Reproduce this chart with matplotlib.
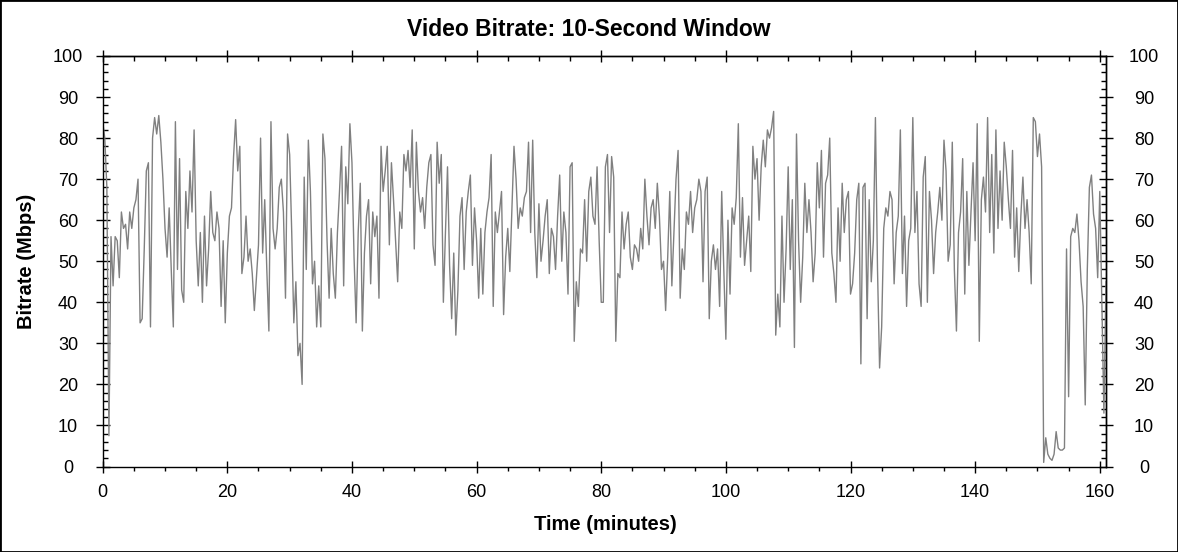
import numpy as np
import matplotlib
matplotlib.use('Agg')
import matplotlib.pyplot as plt
from matplotlib.ticker import MultipleLocator
from matplotlib.patches import Rectangle

plt.rcParams['font.family'] = ['Liberation Sans', 'DejaVu Sans']

# Sampling interval of the values (minutes)
STEP_MIN = 1 / 3

bitrate_mbps = [
    # 0 - 16 min
    84, 80, 68, 7.5, 56, 44, 56, 55, 46, 62, 58, 59, 53, 62, 58, 63, 65, 70, 35, 36,
    53, 72, 74, 34, 80, 85, 81, 85.5, 79, 70, 58, 51, 63, 48, 34, 84, 48, 75, 43, 40,
    67, 58, 72, 62, 82, 55, 44, 57, 40,
    # 16 - 32 min
    61, 44, 53, 67, 57, 55, 62, 58, 39, 55, 35, 52, 61, 63, 75.5, 84.5, 72, 78, 47, 51,
    61, 50, 53, 47, 38, 46, 54, 80, 52, 65, 48, 33, 84, 58, 53, 58, 68, 70, 62, 41,
    81, 76, 57, 35, 45, 27, 30, 20,
    # 32 - 48 min
    70.5, 48, 79.5, 67, 44.5, 50, 34, 44, 34, 81, 75, 55, 41, 58, 47, 41, 57, 67, 78, 44,
    73, 64, 83.5, 74, 51, 35, 57, 69, 33, 52, 61, 65, 44.5, 62, 56, 61, 41, 78, 67, 72,
    78, 54, 74, 65, 55, 45, 62, 58,
    # 48 - 64 min
    76, 72, 77, 68, 82, 53, 79, 67, 62, 65.5, 58, 68, 74, 76, 54, 49, 79, 69, 76, 40,
    57, 73, 49, 36, 52, 32, 43, 61, 65.5, 48, 62, 67, 71, 49, 63, 55, 41, 58, 42, 57,
    62, 65.5, 76, 39, 62, 57, 62, 67,
    # 64 - 80 min
    37, 51, 58, 47.5, 63, 78, 70, 58, 63, 61, 65.5, 67, 79, 57, 79.5, 57, 46, 64, 50, 55,
    61, 65, 47, 58, 56, 48, 61, 71, 50, 62, 57, 42, 73, 74, 30.5, 45, 39, 53, 52, 65,
    50, 67, 70.5, 61, 59, 73, 55, 40,
    # 80 - 96 min
    40, 73, 76, 57, 75.5, 70.5, 30.5, 47, 46, 62, 53, 59, 62, 51, 48, 54, 53, 50, 58, 53,
    70, 61, 54, 63, 65, 58, 69, 61, 48, 50, 38, 51, 67, 44, 57, 70, 77, 41, 53, 48,
    62, 59, 67, 57, 63, 65, 70, 67,
    # 96 - 112 min
    45, 67, 70.5, 36, 50, 54, 48, 53, 39, 67, 48, 31, 60, 42, 63, 59, 65.5, 83.5, 51, 65.5,
    49, 55, 61, 47.5, 78, 70, 75, 60, 73, 79.5, 73, 82, 80, 82.5, 86.5, 32, 42, 34, 61, 40,
    53, 73, 48, 65, 29, 81, 55, 40,
    # 112 - 128 min
    51, 69, 57, 65, 57, 45, 52, 74, 63, 77, 51, 69, 71, 80, 52, 47, 40, 63, 50, 69,
    57, 65, 67, 42, 44.5, 52, 65, 69, 25, 68, 69, 36, 65, 45, 55, 85, 48, 24, 34, 58,
    63, 61, 67, 65, 44.5, 57, 61, 82,
    # 128 - 144 min
    47, 61, 39, 55, 58, 85, 57, 67, 44.5, 39, 70.5, 75.5, 40, 67, 60, 47, 57, 62, 68, 60,
    79.5, 72, 50, 54, 79, 48, 33, 57, 62, 75, 42, 67, 49, 62, 74, 55, 83.5, 30.5, 65, 70.5,
    62, 85, 57, 76, 52, 82, 58, 72,
    # 144 - 161 min
    60, 79, 73, 65, 58, 77, 51, 63, 47.5, 61, 70.5, 58, 65, 57, 44.5, 85, 84, 75.5, 81, 73,
    1, 7, 3, 2, 1.5, 3, 8.5, 4.5, 4, 4, 4.5, 53, 17, 56, 58, 57, 61.5, 55, 45, 39,
    15, 48, 68, 71, 61.5, 58, 46, 67, 40, 13, 45,
]
minutes = np.arange(len(bitrate_mbps)) * STEP_MIN

title_text = "Video Bitrate: 10-Second Window"
x_label = "Time (minutes)"
y_label = "Bitrate (Mbps)"
x_ticks = [0, 20, 40, 60, 80, 100, 120, 140, 160]
y_ticks = [0, 10, 20, 30, 40, 50, 60, 70, 80, 90, 100]

W, H = 1178, 552
fig = plt.figure(figsize=(W / 100, H / 100), dpi=100)
fig.patch.set_facecolor('white')

left, right, top, bottom = 102.7, 1106, 56, 466.5
ax = fig.add_axes([left / W, 1 - bottom / H, (right - left) / W, (bottom - top) / H])
ax.plot(minutes, bitrate_mbps, color='#808080', lw=1.0)

ax.set_xlim(0, 161)
ax.set_ylim(0, 100)
ax.set_xticks(x_ticks)
ax.set_yticks(y_ticks)
ax.xaxis.set_minor_locator(MultipleLocator(5))
ax.yaxis.set_minor_locator(MultipleLocator(2))

for s in ax.spines.values():
    s.set_linewidth(1.0)
    s.set_color('black')

tick_fs = 13
ax.tick_params(axis='x', which='major', direction='inout', length=8.6, width=1,
               labelsize=tick_fs, pad=8.1, top=False)
ax.tick_params(axis='x', which='minor', direction='out', length=2.6, width=1, top=False)
ax.tick_params(axis='y', which='major', direction='inout', length=9.5, width=1,
               labelsize=tick_fs, pad=20.2, right=False)
ax.tick_params(axis='y', which='minor', direction='in', length=3.6, width=1, right=False)
for lbl in ax.get_yticklabels():
    lbl.set_horizontalalignment('center')

# top axis: ticks only
secx = ax.secondary_xaxis('top')
secx.set_xticks(x_ticks)
secx.xaxis.set_minor_locator(MultipleLocator(5))
secx.tick_params(axis='x', which='major', direction='inout', length=8.6, width=1,
                 labeltop=False)
secx.tick_params(axis='x', which='minor', direction='in', length=3.6, width=1)

# right axis: ticks and labels
secy = ax.secondary_yaxis('right')
secy.set_yticks(y_ticks)
secy.yaxis.set_minor_locator(MultipleLocator(2))
secy.tick_params(axis='y', which='major', direction='inout', length=9.5, width=1,
                 labelsize=tick_fs, pad=22.6)
secy.tick_params(axis='y', which='minor', direction='in', length=3.6, width=1)
for lbl in secy.get_yticklabels():
    lbl.set_horizontalalignment('center')
for sp in (secx, secy):
    for s in sp.spines.values():
        s.set_linewidth(1.0)

fig.text(0.5, 1 - 29.5 / H, title_text, ha='center', va='center',
         fontsize=16.5, fontweight='bold')
fig.text(605 / W, 1 - 524 / H, x_label, ha='center', va='center',
         fontsize=14.5, fontweight='bold')
fig.text(27 / W, 1 - 261 / H, y_label, ha='center', va='center', rotation=90,
         fontsize=14.5, fontweight='bold')

fig.patches.append(Rectangle((0, 0), 1, 1, transform=fig.transFigure, fill=False,
                             edgecolor='black', linewidth=2.0))

fig.savefig('out.png', dpi=100, facecolor='white')
